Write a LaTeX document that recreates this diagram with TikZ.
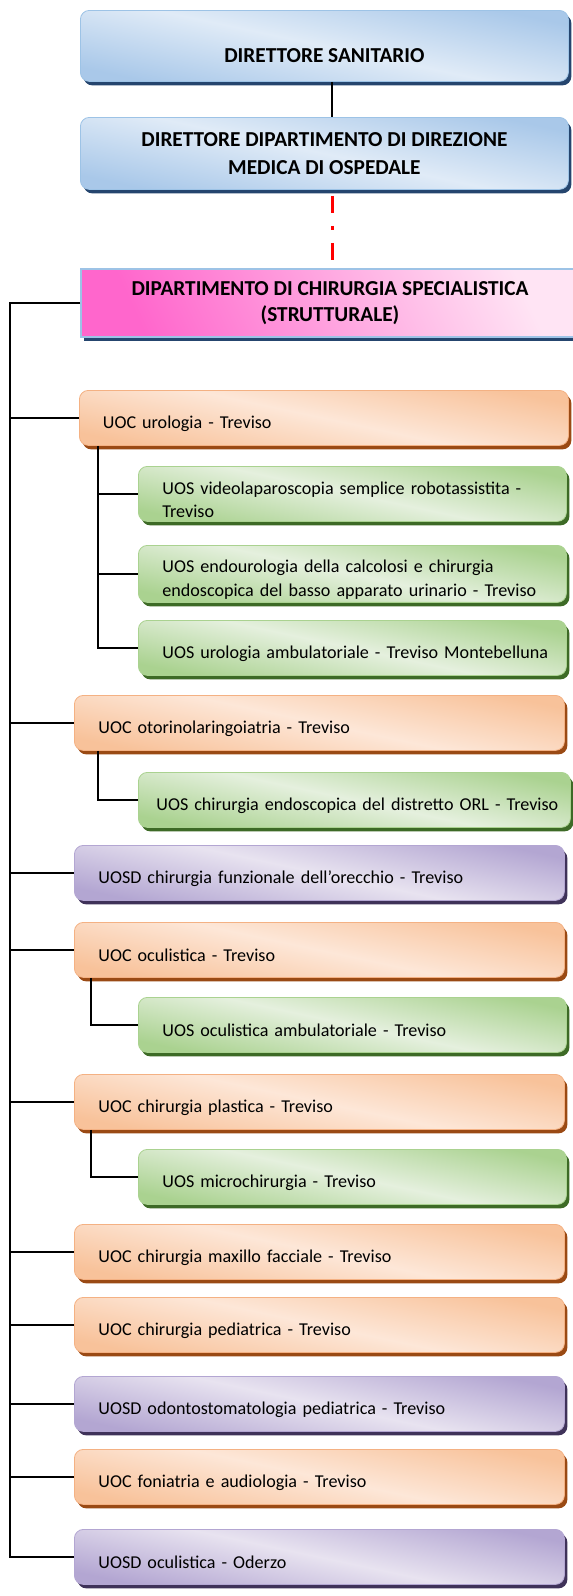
\documentclass[tikz,border=0pt]{standalone}
\usepackage{fontspec}
\setmainfont{Carlito}
\usetikzlibrary{shadows}

\definecolor{blueedge}{HTML}{A9C8E9}
\definecolor{bluemid}{HTML}{E0EBF7}
\definecolor{blueline}{HTML}{9DC3E6}
\definecolor{blueshadow}{HTML}{25456E}
\definecolor{pinkdark}{HTML}{FF66CC}
\definecolor{pinklight}{HTML}{FFE4F4}
\definecolor{orangeedge}{HTML}{F8C29A}
\definecolor{orangemid}{HTML}{FDE7D8}
\definecolor{orangeline}{HTML}{F4B183}
\definecolor{orangeshadow}{HTML}{9A4A14}
\definecolor{greenedge}{HTML}{AAD290}
\definecolor{greenmid}{HTML}{E5F0DE}
\definecolor{greenshadow}{HTML}{3D6A26}
\definecolor{purpleedge}{HTML}{B3A6D2}
\definecolor{purplemid}{HTML}{E8E3F0}
\definecolor{purpleshadow}{HTML}{3F3259}

\tikzset{
  box/.style={anchor=north west, rounded corners=9pt, line width=0.8pt},
  headbox/.style={box, draw=blueline, top color=blueedge, bottom color=blueedge,
    middle color=bluemid, shading angle=-12, minimum width=488pt, align=center,
    font=\bfseries\fontsize{21.3}{28}\selectfont,
    drop shadow={shadow xshift=3pt, shadow yshift=-4pt, opacity=1, fill=blueshadow}},
  deptbox/.style={anchor=north west, draw=blueline, line width=2pt,
    left color=pinkdark, right color=pinklight, shading angle=115,
    minimum width=498pt, minimum height=68pt, align=center,
    font=\bfseries\fontsize{21.3}{26}\selectfont,
    drop shadow={shadow xshift=3pt, shadow yshift=-4pt, opacity=1, fill=blueshadow}},
  unitbox/.style={box, minimum height=55pt, align=left, text height=24pt,
    font=\fontsize{18.1}{23.4}\selectfont},
  uocbox/.style={unitbox, draw=orangeline, top color=orangeedge, bottom color=orangeedge,
    middle color=orangemid, shading angle=-12, minimum width=490pt, text width=442pt,
    drop shadow={shadow xshift=3pt, shadow yshift=-4pt, opacity=1, fill=orangeshadow}},
  uosbox/.style={unitbox, draw=greenedge, top color=greenedge, bottom color=greenedge,
    middle color=greenmid, shading angle=-12, minimum width=428pt, text width=380pt,
    drop shadow={shadow xshift=3pt, shadow yshift=-4pt, opacity=1, fill=greenshadow}},
  uosdbox/.style={unitbox, draw=purpleedge, top color=purpleedge, bottom color=purpleedge,
    middle color=purplemid, shading angle=-12, minimum width=490pt, text width=442pt,
    drop shadow={shadow xshift=3pt, shadow yshift=-4pt, opacity=1, fill=purpleshadow}},
  wire/.style={line width=1.3pt},
  reddash/.style={red, line width=3pt, dash pattern=on 17pt off 13pt on 4pt off 13pt}
}

\begin{document}
\begin{tikzpicture}[x=1pt, y=-1pt]
  \useasboundingbox (0,0) rectangle (573,1596);

  % direction
  \node [headbox, minimum height=71pt, text height=33pt] (sanitario) at (80,10){DIRETTORE SANITARIO};
  \node [headbox, minimum height=72pt] (dirmed) at (80,117){DIRETTORE DIPARTIMENTO DI DIREZIONE\\MEDICA DI OSPEDALE};
  \node [deptbox] (dipchir) at (80,268){DIPARTIMENTO DI CHIRURGIA SPECIALISTICA\\(STRUTTURALE)};

  % urologia
  \node [uocbox, minimum width=489pt] (urologia) at (79,390){UOC urologia - Treviso};
  \node [uosbox] (videolap) at (138,466){UOS videolaparoscopia semplice robotassistita -\\Treviso};
  \node [uosbox] (endouro) at (138,545){UOS endourologia della calcolosi e chirurgia\\\mbox{endoscopica del basso apparato urinario - Treviso}};
  \node [uosbox] (uroamb) at (138,620){\mbox{UOS urologia ambulatoriale - Treviso Montebelluna}};

  % otorino
  \node [uocbox] (otorino) at (74,695){UOC otorinolaringoiatria - Treviso};
  \node [uosbox, minimum width=432pt, text width=396pt] (orl) at (138,772){\mbox{UOS chirurgia endoscopica del distretto ORL - Treviso}};
  \node [uosdbox] (orecchio) at (74,845){UOSD chirurgia funzionale dell’orecchio - Treviso};

  % oculistica
  \node [uocbox] (oculistica) at (74,922){UOC oculistica - Treviso};
  \node [uosbox] (oculamb) at (138,997){UOS oculistica ambulatoriale - Treviso};

  % plastica
  \node [uocbox] (plastica) at (74,1074){UOC chirurgia plastica - Treviso};
  \node [uosbox] (microchir) at (138,1149){UOS microchirurgia - Treviso};

  % other units
  \node [uocbox] (maxillo) at (74,1224){UOC chirurgia maxillo facciale - Treviso};
  \node [uocbox] (pediatrica) at (74,1297){UOC chirurgia pediatrica - Treviso};
  \node [uosdbox] (odonto) at (74,1376){UOSD odontostomatologia pediatrica - Treviso};
  \node [uocbox] (foniatria) at (74,1449){UOC foniatria e audiologia - Treviso};
  \node [uosdbox] (oderzo) at (74,1529){UOSD oculistica - Oderzo};

  % top links
  \coordinate (axis) at (332,0);
  \draw [wire] (sanitario.south -| axis)--(dirmed.north -| axis);
  \draw [reddash, shorten <=6pt, shorten >=6pt] (dirmed.south -| axis)--(dipchir.north -| axis);

  % department spine
  \coordinate (spine) at (10,0);
  \draw [wire] (dipchir.west)--(dipchir.west -| spine) |- (oderzo.west);
  \foreach \unit in {urologia,otorino,orecchio,oculistica,plastica,maxillo,pediatrica,odonto,foniatria}
    \draw [wire] (\unit.west -| spine)--(\unit.west);

  % sub-unit links
  \coordinate (urox) at (98,0);
  \coordinate (oculx) at (91,0);
  \draw [wire] (urologia.south -| urox) |- (uroamb.west);
  \draw [wire] (videolap.west -| urox)--(videolap.west);
  \draw [wire] (endouro.west -| urox)--(endouro.west);
  \draw [wire] (otorino.south -| urox) |- (orl.west);
  \draw [wire] (oculistica.south -| oculx) |- (oculamb.west);
  \draw [wire] (plastica.south -| oculx) |- (microchir.west);
\end{tikzpicture}
\end{document}
